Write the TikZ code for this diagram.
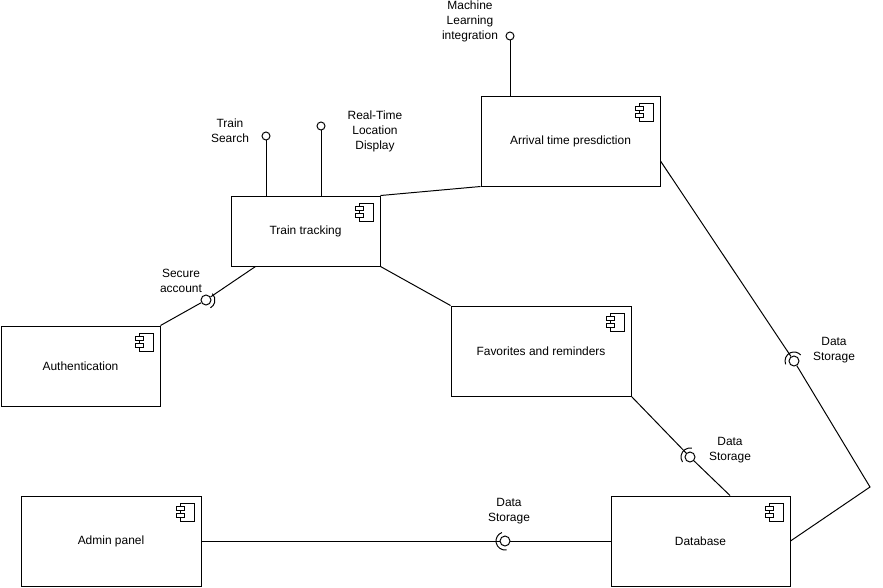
\documentclass[tikz,border=0pt]{standalone}
\usepackage{fontspec}
\usepackage{tikz}
\usetikzlibrary{positioning}
\setmainfont{Liberation Sans}

% one unit = one pixel of the drawing
\newcommand{\pxu}{0.025cm}

\tikzset{
    comp/.style={draw, line width=0.7pt, fill=white, align=center,
        path picture={
            \draw[line width=0.7pt, fill=white] ([xshift=-21*\pxu, yshift=-7*\pxu]path picture bounding box.north east) rectangle ++(14*\pxu,-18*\pxu);
            \draw[line width=0.7pt, fill=white] ([xshift=-25*\pxu, yshift=-10*\pxu]path picture bounding box.north east) rectangle ++(8*\pxu,-4*\pxu);
            \draw[line width=0.7pt, fill=white] ([xshift=-25*\pxu, yshift=-17*\pxu]path picture bounding box.north east) rectangle ++(8*\pxu,-4*\pxu);
        }},
    ball/.style={circle, draw, line width=0.7pt, inner sep=0pt, minimum size=8*\pxu},
    sockball/.style={ball, minimum size=10*\pxu},
    lbl/.style={align=center, inner sep=0pt},
    wire/.style={line width=0.7pt},
}

\begin{document}
\begin{tikzpicture}[x=\pxu, y=-\pxu, font=\fontsize{8.5}{10.7}\selectfont]
                \useasboundingbox (0,0) rectangle (883,587);

                % Components
                \node[comp, minimum width=149*\pxu, minimum height=70*\pxu] (track) at (305.5,231) {Train tracking};
                \node[comp, minimum width=179*\pxu, minimum height=90*\pxu] (pred) at (570.5,141) {Arrival time presdiction};
                \node[comp, minimum width=159*\pxu, minimum height=80*\pxu] (auth) at (80.5,366) {Authentication};
                \node[comp, minimum width=180*\pxu, minimum height=90*\pxu] (fav) at (541,351) {Favorites and reminders};
                \node[comp, minimum width=180*\pxu, minimum height=90*\pxu] (admin) at (111,541) {Admin panel};
                \node[comp, minimum width=179*\pxu, minimum height=90*\pxu] (db) at (700.5,541) {Database};

                % Provided interfaces
                \node[ball] (srch) at (266,136) {};
                \node[ball] (rtld) at (321,126) {};
                \node[ball] (mli) at (510,36) {};
                \node[lbl] (srchlbl) at (230,131) {Train\\Search};
                \node[lbl] (rtldlbl) at (375,131) {Real-Time\\Location\\Display};
                \node[lbl] (mlilbl) at (470,21) {Machine\\Learning\\integration};
                \draw[wire] (srch) -- (srch |- track.north);
                \draw[wire] (rtld) -- (rtld |- track.north);
                \draw[wire] (mli) -- (mli |- pred.north);

                % Sockets
                \node[sockball] (sa) at (206,300) {};
                \node[sockball] (sb) at (690,457) {};
                \node[sockball] (sc) at (794,361) {};
                \node[sockball] (sd) at (505,541) {};
                \draw[wire] (sa.center) ++(-45:9) arc[start angle=-45, end angle=60, radius=9];
                \draw[wire] (sb.center) ++(146:9) arc[start angle=146, end angle=282, radius=9];
                \draw[wire] (sc.center) ++(158:9) arc[start angle=158, end angle=318, radius=9];
                \draw[wire] (sd.center) ++(80:9) arc[start angle=80, end angle=250, radius=9];
                \node[lbl] (salbl) at (181,281) {Secure\\account};
                \node[lbl] (sblbl) at (730,450.5) {Data\\Storage};
                \node[lbl] (sclbl) at (834,350.5) {Data\\Storage};
                \node[lbl] (sdlbl) at (509,511) {Data\\Storage};

                % Connectors
                \draw[wire] (track.north east) -- (pred.south west);
                \draw[wire] (track.south east) -- (fav.north west);
                \draw[wire] (auth.north east) -- (sa);
                \draw[wire] (sa) -- ([xshift=25*\pxu]track.south west);
                \draw[wire] (fav.south east) -- (sb);
                \draw[wire] (sb) -- ([xshift=29.5*\pxu]db.north);
                \coordinate (bend) at (870,487);
                \draw[wire] ([yshift=-20*\pxu]pred.east) -- (sc);
                \draw[wire] (sc) -- (bend) -- (db.east);
                \draw[wire] (admin.east) -- (sd);
                \draw[wire] (sd) -- (db.west);
\end{tikzpicture}
\end{document}
